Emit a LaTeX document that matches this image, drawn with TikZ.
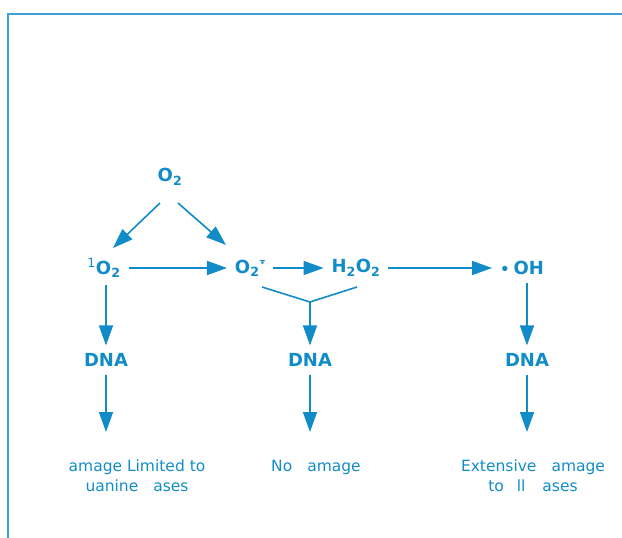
\documentclass[tikz,border=0pt]{standalone}
\usepackage{fontspec}
\setmainfont{DejaVu Sans}
\usetikzlibrary{arrows.meta}
\definecolor{inkblue}{RGB}{18,140,200}
\definecolor{frameblue}{RGB}{60,160,210}

\begin{document}
\begin{tikzpicture}[
  x=1pt, y=-1pt,
  every node/.style={text=inkblue, inner sep=0pt, outer sep=8pt,
    font=\fontsize{18}{20}\selectfont\bfseries},
  arr/.style={draw=inkblue, line width=1.6pt, -{Triangle[length=20pt,width=14pt]}},
  link/.style={draw=inkblue, line width=1.6pt},
  result/.style={align=center, outer sep=0pt, anchor=north,
    font=\fontsize{15.5}{20}\selectfont}
]
  \useasboundingbox (0,0) rectangle (622,538);
  % frame
  \draw[frameblue, line width=1.8pt] (8,538) -- (8,14) -- (622,14);

  % species
  \node (o2)  at (170,177) {O\textsubscript{2}};
  \node (so2) at (104,268) {\textsuperscript{\mdseries 1}O\textsubscript{2}};
  \node (sup) at (250,268) {O\textsubscript{2}\hspace{0.5pt}\raisebox{6pt}{\fontsize{13}{13}\selectfont$\overline{\mbox{\textperiodcentered}}$}};
  \node (hp)  at (356,268) {H\textsubscript{2}O\textsubscript{2}};
  \node (oh)  at (522,268) {\raisebox{0.5pt}{\fontsize{15}{15}\selectfont\textbullet}\hspace{4pt}OH};

  % DNA
  \node (dna1) at (106,360) {DNA};
  \node (dna2) at (310,360) {DNA};
  \node (dna3) at (527,360) {DNA};

  % outcomes
  \node[result] (res1) at (137,460) {amage Limited to\\uanine\hspace{15pt}ases};
  \node[result] (res2) at (316,460) {No\hspace{15pt}amage};
  \node[result] (res3) at (533,460) {Extensive\hspace{15pt}amage\\to\hspace{13pt}ll\hspace{17pt}ases};

  \coordinate (join) at (310,302);

  % reactions
  \draw[arr] ([shift={(-10,26)}]o2.center) -- ([shift={(9,-20)}]so2.center);
  \draw[arr] ([shift={(8,26)}]o2.center) -- ([shift={(-24,-23)}]sup.center);
  \draw[arr] (so2) -- (sup);
  \draw[arr] (sup) -- (hp);
  \draw[arr] (hp) -- (oh);
  \draw[link] ([shift={(12,19)}]sup.center) -- (join) -- ([shift={(1,19)}]hp.center);

  % attack on DNA
  \draw[arr] (so2.south -| dna1) -- (dna1);
  \draw[arr] (join) -- (dna2);
  \draw[arr] (oh.south -| dna3) -- (dna3);
  \draw[arr, shorten >=28pt] (dna1) -- (dna1 |- res1.north);
  \draw[arr, shorten >=28pt] (dna2) -- (dna2 |- res2.north);
  \draw[arr, shorten >=28pt] (dna3) -- (dna3 |- res3.north);
\end{tikzpicture}
\end{document}
